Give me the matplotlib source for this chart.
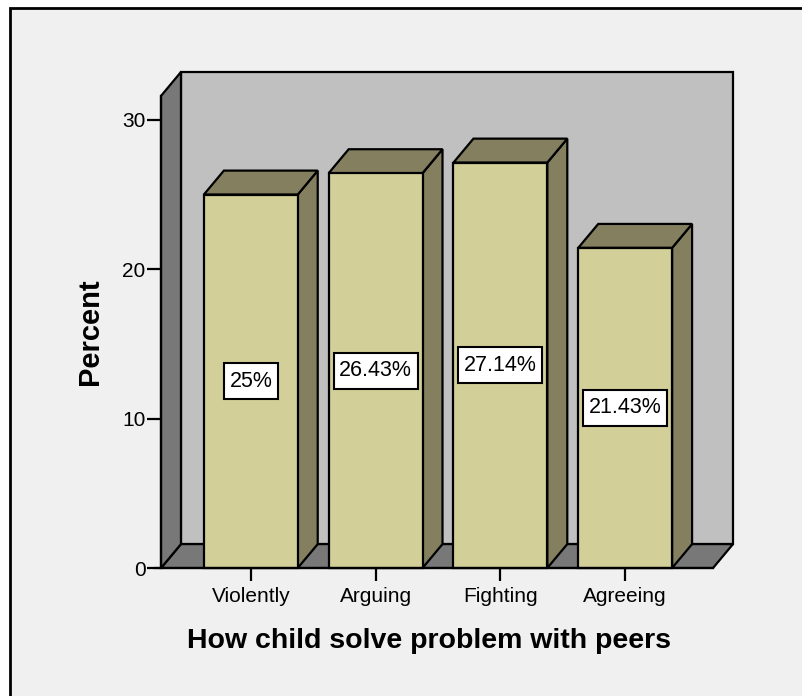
import matplotlib.pyplot as plt
from matplotlib.patches import Polygon, Rectangle

plt.rcParams['font.family'] = ['Liberation Sans', 'DejaVu Sans']

# Data
categories = ['Violently', 'Arguing', 'Fighting', 'Agreeing']
percents = [25.0, 26.43, 27.14, 21.43]
labels = ['25%', '26.43%', '27.14%', '21.43%']

# 3D look
dx, dy = 0.16, 1.6       # depth offset in data units
half = 0.376             # half bar width
x0, x1 = -0.72, 3.704    # front floor edge
wall_top = 31.6

front_col = '#d3cf99'
dark_col = '#847f5f'
wall_col = '#c0c0c0'
floor_col = '#787878'
lw = 1.6

fig = plt.figure(figsize=(8.02, 6.96), dpi=100, facecolor='white')
fig.patches.append(Rectangle((10 / 802, -0.01), 1.0, (696 - 8) / 696 + 0.01,
                             transform=fig.transFigure, facecolor='#f0f0f0',
                             edgecolor='black', linewidth=2, zorder=-1))

ax = fig.add_axes([161 / 802, 128 / 696, 572 / 802, 496 / 696])
ax.set_facecolor('none')
ax.set_xlim(x0, x1 + dx)
ax.set_ylim(0, wall_top + dy)

def poly(pts, color, z=1):
    ax.add_patch(Polygon(pts, closed=True, facecolor=color, edgecolor='black',
                         linewidth=lw, joinstyle='miter', zorder=z, clip_on=False))

# back wall, floor, left wall
poly([(x0 + dx, dy), (x1 + dx, dy), (x1 + dx, wall_top + dy), (x0 + dx, wall_top + dy)], wall_col)
poly([(x0, 0), (x1, 0), (x1 + dx, dy), (x0 + dx, dy)], floor_col)
poly([(x0, 0), (x0 + dx, dy), (x0 + dx, wall_top + dy), (x0, wall_top)], floor_col)

texts = []
for i, (v, lab) in enumerate(zip(percents, labels)):
    l, r = i - half, i + half
    poly([(r, 0), (r + dx, dy), (r + dx, v + dy), (r, v)], dark_col, 2)
    poly([(l, v), (r, v), (r + dx, v + dy), (l + dx, v + dy)], dark_col, 2)
    poly([(l, 0), (r, 0), (r, v), (l, v)], front_col, 3)
    texts.append(ax.text(i, v / 2, lab, ha='center', va='center',
                         fontsize=15.5, zorder=6))

for s in ax.spines.values():
    s.set_visible(False)

ax.set_yticks([0, 10, 20, 30])
ax.set_xticks(range(len(categories)))
ax.set_xticklabels(categories)
ax.tick_params(axis='y', length=10, width=1.6, pad=1, labelsize=15)
ax.tick_params(axis='x', length=9.5, width=1.6, pad=4, labelsize=15)
ax.plot([x0, x0], [0, wall_top], color='black', lw=lw, clip_on=False, zorder=4)
ax.plot([x0 - 0.05, x1], [0, 0], color='black', lw=lw, clip_on=False, zorder=4)

fig.text(429 / 802, 1 - 641 / 696, 'How child solve problem with peers',
         ha='center', va='center', fontsize=20.5, fontweight='bold')
fig.text(90 / 802, 1 - 332 / 696, 'Percent', ha='center', va='center',
         rotation=90, fontsize=21, fontweight='bold')

# white label boxes sized around the text
fig.canvas.draw()
renderer = fig.canvas.get_renderer()
for t in texts:
    bb = t.get_window_extent(renderer)
    cx, cy = (bb.x0 + bb.x1) / 2, (bb.y0 + bb.y1) / 2
    w, h = bb.width + 11, 36
    fig.patches.append(Rectangle(((cx - w / 2) / 802, (cy - h / 2) / 696), w / 802, h / 696,
                                 transform=fig.transFigure, facecolor='white',
                                 edgecolor='black', linewidth=1.5, zorder=5))
    t.remove()
    fig.text(cx / 802, cy / 696, t.get_text(), ha='center', va='center',
             fontsize=15.5, zorder=6)

fig.savefig('out.png', dpi=100, facecolor=fig.get_facecolor())
